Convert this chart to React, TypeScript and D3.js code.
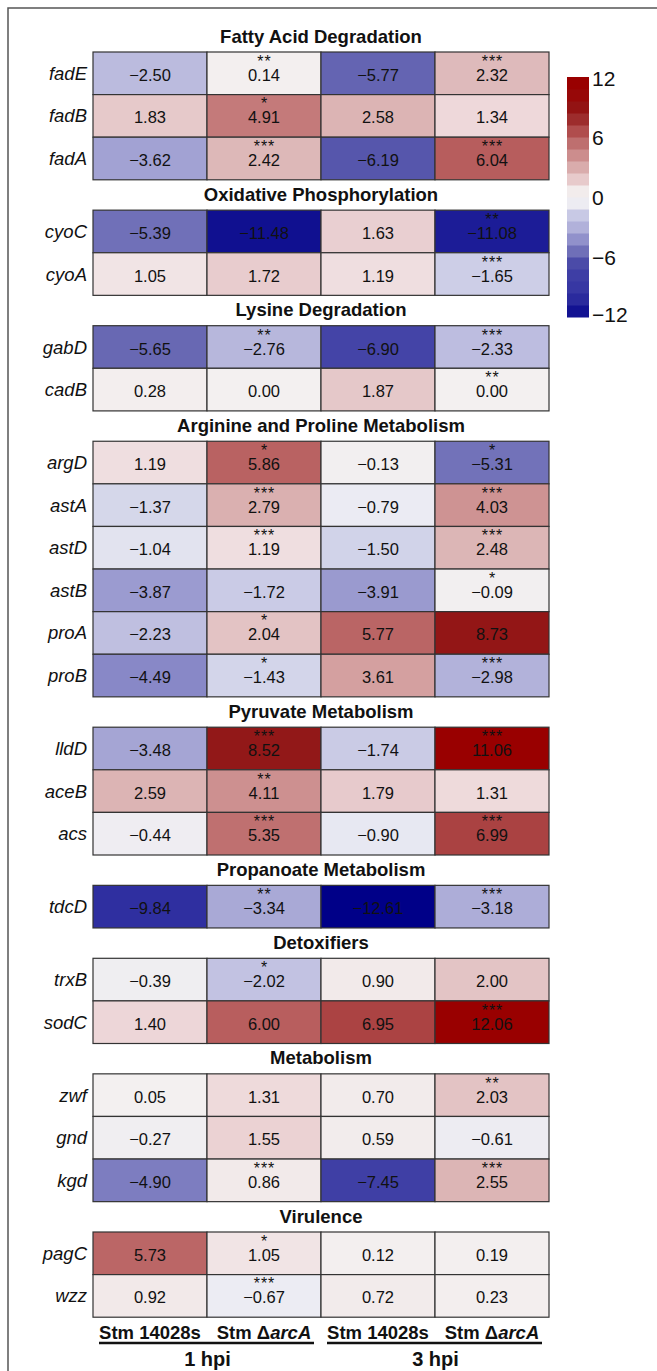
import React from "react";
import * as d3 from "d3";

const groups = [
  "Fatty Acid Degradation",
  "Oxidative Phosphorylation",
  "Lysine Degradation",
  "Arginine and Proline Metabolism",
  "Pyruvate Metabolism",
  "Propanoate Metabolism",
  "Detoxifiers",
  "Metabolism",
  "Virulence",
];

const genes = [
  "fadE", "fadB", "fadA",
  "cyoC", "cyoA",
  "gabD", "cadB",
  "argD", "astA", "astD", "astB", "proA", "proB",
  "lldD", "aceB", "acs",
  "tdcD",
  "trxB", "sodC",
  "zwf", "gnd", "kgd",
  "pagC", "wzz",
];

const geneGroup = [0, 0, 0, 1, 1, 2, 2, 3, 3, 3, 3, 3, 3, 4, 4, 4, 5, 6, 6, 7, 7, 7, 8, 8];

const stm1h = [-2.5, 1.83, -3.62, -5.39, 1.05, -5.65, 0.28, 1.19, -1.37, -1.04, -3.87, -2.23, -4.49, -3.48, 2.59, -0.44, -9.84, -0.39, 1.4, 0.05, -0.27, -4.9, 5.73, 0.92];
const arc1h = [0.14, 4.91, 2.42, -11.48, 1.72, -2.76, 0.0, 5.86, 2.79, 1.19, -1.72, 2.04, -1.43, 8.52, 4.11, 5.35, -3.34, -2.02, 6.0, 1.31, 1.55, 0.86, 1.05, -0.67];
const stm3h = [-5.77, 2.58, -6.19, 1.63, 1.19, -6.9, 1.87, -0.13, -0.79, -1.5, -3.91, 5.77, 3.61, -1.74, 1.79, -0.9, -12.61, 0.9, 6.95, 0.7, 0.59, -7.45, 0.12, 0.72];
const arc3h = [2.32, 1.34, 6.04, -11.08, -1.65, -2.33, 0.0, -5.31, 4.03, 2.48, -0.09, 8.73, -2.98, 11.06, 1.31, 6.99, -3.18, 2.0, 12.06, 2.03, -0.61, 2.55, 0.19, 0.23];

const starsArc1h = ["**", "*", "***", "", "", "**", "", "*", "***", "***", "", "*", "*", "***", "**", "***", "**", "*", "", "", "", "***", "*", "***"];
const starsArc3h = ["***", "", "***", "**", "***", "***", "**", "*", "***", "***", "*", "", "***", "***", "", "***", "***", "", "***", "**", "", "***", "", ""];

const columns = ["c1", "c2", "c3", "c4"];
const legendTicks = [12, 6, 0, -6, -12];

const colorStops = [-12, -11, -9.5, -7, -6.3, -5.6, -4.7, -3.7, -2.8, -2.0, -1.4, -0.8, 0, 0.9, 1.4, 2.4, 3.6, 4.5, 5.6, 6.5, 8.5, 11, 12];
const colorRange = ["#000088", "#1e1e98", "#3434a2", "#4242a6", "#5252aa", "#6a6ab4", "#8282c4", "#a0a0d2", "#b6b6dc", "#c2c2e2", "#d4d6ea", "#ebebf3", "#f3f0f0", "#f2eaea", "#edd6d8", "#ddb8b8", "#d4a0a0", "#c88484", "#bc6a6a", "#b25050", "#921818", "#990000", "#990000"];

const font = "'Liberation Sans', Arial, Helvetica, sans-serif";

export default function App() {
  const color = d3.scaleLinear<string>().domain(colorStops).range(colorRange).clamp(true);
  const x = d3.scaleBand<string>().domain(columns).range([93, 549]).padding(0);
  const rowH = 42.6;
  const gapH = 30.35;
  const top = 52;
  const yRow = (i: number) => top + i * rowH + geneGroup[i] * gapH;
  const fmt = (v: number) => d3.format(".2f")(v).replace("-", "\u2013");
  const values = [stm1h, arc1h, stm3h, arc3h];
  const stars = [genes.map(() => ""), starsArc1h, genes.map(() => ""), starsArc3h];

  const legendY = d3.scaleLinear().domain([-12, 12]).range([317, 77]);
  const bins = d3.range(20).map((i) => -12 + i * 1.2);

  return (
    <svg width={657} height={1371} style={{ position: "absolute", left: 0, top: 0, background: "#fff" }} fontFamily={font}>
      <rect x={0} y={0} width={657} height={1371} fill="#fff" />
      <rect x={8} y={8} width={700} height={1500} fill="none" stroke="#555" strokeWidth={1.5} />

      {groups.map((g, gi) => {
        const first = geneGroup.indexOf(gi);
        return (
          <text key={g} x={321} y={yRow(first) - 16} textAnchor="middle" dominantBaseline="central" fontWeight="bold" fontSize={18.5} fill="#111">
            {g}
          </text>
        );
      })}

      {genes.map((gene, i) => (
        <g key={gene}>
          <text x={87} y={yRow(i) + rowH / 2} textAnchor="end" dominantBaseline="central" fontStyle="italic" fontSize={18.5} fill="#111">
            {gene}
          </text>
          {columns.map((c, ci) => {
            const v = values[ci][i];
            const s = stars[ci][i];
            const cx = (x(c) as number) + x.bandwidth() / 2;
            const cy = yRow(i) + rowH / 2;
            return (
              <g key={c}>
                <rect x={x(c)} y={yRow(i)} width={x.bandwidth()} height={rowH} fill={color(v)} stroke="#333" strokeWidth={1.2} />
                <text x={cx} y={cy + 1.5} textAnchor="middle" dominantBaseline="central" fontSize={16.5} fill="#111">
                  {fmt(v)}
                </text>
                {s && (
                  <text x={cx + 0.5} y={cy - 6.5} textAnchor="middle" fontSize={16} fill="#111" letterSpacing={1}>
                    {s}
                  </text>
                )}
              </g>
            );
          })}
        </g>
      ))}

      {bins.map((b) => (
        <rect key={b} x={567} y={legendY(b + 1.2)} width={22} height={legendY(b) - legendY(b + 1.2) + 0.5} fill={color(b + 0.6)} />
      ))}
      {legendTicks.map((t) => (
        <text key={t} x={592} y={legendY(t) + (t === -12 ? -3 : t === 12 ? 1 : 0)} dominantBaseline="central" fontSize={21} fill="#111">
          {t < 0 ? "\u2212" + Math.abs(t) : String(t)}
        </text>
      ))}

      {[0, 1, 2, 3].map((ci) => {
        const cx = (x(columns[ci]) as number) + x.bandwidth() / 2;
        return ci % 2 === 0 ? (
          <text key={ci} x={cx} y={1332} textAnchor="middle" dominantBaseline="central" fontWeight="bold" fontSize={18.5} fill="#111">
            Stm 14028s
          </text>
        ) : (
          <text key={ci} x={cx} y={1332} textAnchor="middle" dominantBaseline="central" fontWeight="bold" fontSize={18.5} fill="#111">
            Stm Δ<tspan fontStyle="italic">arcA</tspan>
          </text>
        );
      })}
      {[0, 1].map((k) => {
        const l = (x(columns[k * 2]) as number) + 6;
        const r = (x(columns[k * 2 + 1]) as number) + x.bandwidth() - 7;
        return (
          <g key={k}>
            <line x1={l} x2={r} y1={1343} y2={1343} stroke="#111" strokeWidth={2.5} />
            <text x={(l + r) / 2 + 1} y={1359} textAnchor="middle" dominantBaseline="central" fontWeight="bold" fontSize={20} fill="#111">
              {k === 0 ? "1 hpi" : "3 hpi"}
            </text>
          </g>
        );
      })}
    </svg>
  );
}
